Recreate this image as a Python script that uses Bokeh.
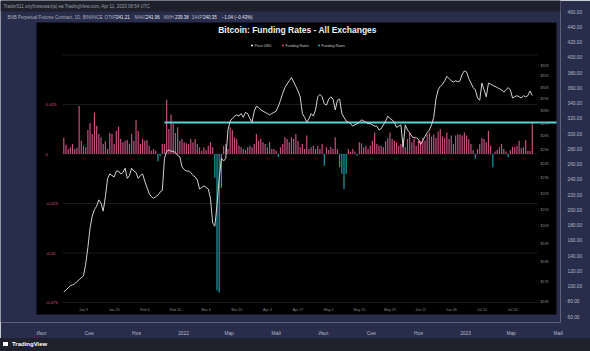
import numpy as np
import pandas as pd
from bokeh.plotting import figure
from bokeh.layouts import column
from bokeh.models import (Range1d, LinearAxis, LogScale, FixedTicker, Div,
                          ColumnDataSource, NumeralTickFormatter)
from bokeh.core.properties import value
from bokeh.embed import file_html
from bokeh.resources import INLINE

# ---------------- data ----------------
start_date = "2022-12-31"

# daily aggregated funding rate, in thousandths (x 0.001)
funding_milli = [
    8.2, 4.7, 2.5, 3.4, 5.1, 2.5, 3.0, 24.2, 6.7, 4.2,
    3.4, 12.1, 15.7, 10.1, 20.9, 14.3, 10.1, 8.4, 5.1, 6.4,
    2.5, 10.6, 10.1, 5.1, 11.8, 13.8, 7.6, 5.9, 6.7, 7.1,
    5.1, 10.1, 6.7, 17.2, 11.8, 5.1, 7.6, 6.7, 7.1, 4.2,
    1.7, 2.5, 1.7, -3.7, -1.0, 5.1, 5.1, 27.4, 12.6, 20.0,
    15.2, 10.6, 13.5, 6.7, 7.6, 5.9, 5.4, 5.1, 7.6, 5.9,
    7.6, 5.1, 3.4, 1.7, 3.4, 2.0, 4.2, 5.9, 3.4, -12.0,
    -69.0, -70.0, -17.0, 4.2, 5.1, 2.5, 13.5, 12.1, 8.4, 7.6,
    4.2, 3.4, 2.5, 2.0, 3.4, 4.2, 3.4, 5.1, 10.1, 6.7,
    7.6, 5.9, 5.1, 3.4, 5.9, 2.5, 2.5, 1.7, -1.5, 3.4,
    5.1, 8.4, 7.6, 5.9, 8.4, 7.6, 10.1, 6.7, 3.4, 5.1,
    2.5, 9.3, 2.5, 3.4, 4.2, 2.5, 4.2, 2.5, 5.1, -5.9,
    3.4, 2.0, 3.7, 2.5, 8.4, 2.5, -6.7, -10.0, -17.7, -10.0,
    2.5, 1.3, 2.5, 1.3, -0.8, 5.9, 5.4, 3.4, 4.2, 2.5,
    4.2, 6.7, 10.9, 5.1, 4.2, 4.2, 3.4, 6.4, 8.0, 10.9,
    7.6, 6.7, 5.9, 4.2, 5.1, 7.6, 3.4, 7.6, 10.9, 5.9,
    7.6, 4.2, 6.7, 6.4, 8.1, 6.7, 9.8, 10.9, 8.8, 9.8,
    8.1, 11.4, 12.6, 8.8, 8.1, 10.9, 7.6, 9.3, 5.1, 9.3,
    9.8, 9.8, 9.3, 10.9, 9.3, 7.6, 5.1, 2.0, -2.4, 2.5,
    5.1, 8.1, 7.6, 5.9, 11.8, 4.2, -6.7, 1.3, 2.0, 3.4,
    5.1, 2.5, 1.3, -1.7, 2.0, 3.7, 3.4, 4.2, 6.7, 3.0,
    3.4, 7.1, 1.7, 1.5, 16.0,
]

# daily price, USD thousands
price_k = [
    16.5, 16.6, 16.7, 16.8, 16.85, 16.9, 17.0, 17.1, 17.2, 17.3,
    17.9, 18.8, 19.9, 20.6, 21.0, 21.2, 21.6, 21.4, 20.9, 21.8,
    23.0, 23.3, 23.2, 23.1, 23.5, 23.5, 23.3, 23.4, 23.7, 23.0,
    23.2, 23.7, 23.5, 23.4, 23.0, 23.2, 23.3, 22.8, 22.4, 22.0,
    21.8, 21.7, 21.8, 21.9, 22.1, 22.2, 24.4, 24.9, 25.0, 24.9,
    24.9, 24.8, 24.6, 24.5, 23.8, 23.6, 23.5, 23.5, 23.4, 23.2,
    23.1, 22.9, 22.3, 22.4, 22.5, 22.4, 22.3, 21.7, 20.2, 20.0,
    21.3, 23.0, 24.4, 24.2, 24.4, 26.5, 27.2, 27.4, 27.6, 27.7,
    27.6, 27.8, 27.5, 27.9, 27.8, 27.4, 27.1, 28.0, 28.4, 28.3,
    28.1, 28.0, 27.9, 27.8, 27.7, 27.8, 27.9, 28.0, 28.4, 28.9,
    29.5, 30.0, 30.3, 30.6, 30.9, 30.5, 30.1, 29.7, 29.2, 27.8,
    27.5, 27.1, 27.4, 27.8, 27.6, 28.1, 29.2, 29.4, 29.2, 28.6,
    28.5, 29.0, 29.2, 29.0, 28.1, 28.9, 29.0, 27.8, 27.5, 27.2,
    27.1, 27.0, 26.8, 26.9, 27.0, 27.1, 27.3, 27.2, 27.1, 27.0,
    27.0, 26.9, 26.8, 26.8, 26.5, 26.6, 26.9, 27.2, 27.6, 27.4,
    27.3, 27.1, 26.7, 26.8, 26.9, 25.2, 26.9, 26.5, 26.3, 26.0,
    25.9, 25.9, 25.8, 25.4, 25.7, 26.0, 26.3, 26.5, 26.9, 27.5,
    29.0, 29.8, 30.1, 30.3, 30.6, 31.0, 30.8, 30.6, 30.5, 30.6,
    30.5, 30.6, 31.2, 31.5, 31.4, 30.8, 30.4, 30.0, 29.8, 29.1,
    28.9, 30.4, 29.8, 29.2, 30.4, 30.3, 30.2, 30.1, 30.0, 29.9,
    29.8, 29.6, 29.8, 30.0, 29.8, 29.1, 29.2, 29.3, 29.2, 29.1,
    29.3, 29.2, 29.3, 29.7, 29.3,
]

funding_tick_values = [0.025, 0.0, -0.025, -0.05, -0.075]
funding_tick_labels = ["0.025", "0", "-0.025", "-0.05", "-0.075"]
funding_grid_values = [0.05, 0.025, 0.0, -0.025, -0.05, -0.075]

price_tick_values = [16000, 17000, 18000, 19000, 20000, 21000, 22000, 23000, 24000,
                     25000, 26000, 27000, 28000, 29000, 30000, 31000, 32000]
price_tick_labels = ["$16K", "$17K", "$18K", "$19K", "$20K", "$21K", "$22K", "$23K", "$24K",
                     "$25K", "$26K", "$27K", "$28K", "$29K", "$30K", "$31K", "$32K"]

date_tick_values = ["2023-01-09", "2023-01-23", "2023-02-06", "2023-02-20", "2023-03-06",
                    "2023-03-20", "2023-04-03", "2023-04-17", "2023-05-01", "2023-05-15",
                    "2023-05-29", "2023-06-12", "2023-06-26", "2023-07-10", "2023-07-24"]
date_tick_labels = ["Jan 9", "Jan 23", "Feb 6", "Feb 20", "Mar 6", "Mar 20", "Apr 3", "Apr 17",
                    "May 1", "May 15", "May 29", "Jun 12", "Jun 26", "Jul 10", "Jul 24"]

ray_start = "2023-02-15"
ray_level = 0.0159

tv_price_ticks = [60, 80, 100, 120, 140, 160, 180, 200, 220, 240, 260, 280, 300,
                  320, 340, 360, 380, 400, 420, 440, 460]
tv_month_dates = ["2021-07-01", "2021-09-01", "2021-11-01", "2022-01-01", "2022-03-01",
                  "2022-05-01", "2022-07-01", "2022-09-01", "2022-11-01", "2023-01-01",
                  "2023-03-01", "2023-05-01"]
tv_month_labels = ["Июл", "Сен", "Ноя", "2022", "Мар", "Май", "Июл", "Сен", "Ноя", "2023",
                   "Мар", "Май"]

legend_labels = ["Price USD", "Funding Rates", "Funding Rates"]

# ---------------- layout calibration (pixels) ----------------
W = 590
FIG_H = 338
FOOT_H = 13
FRAME_W, FRAME_H = 560, 322
DAY = 86400000.0


def ms(d):
    return pd.Timestamp(d).value / 1e6


ANCHOR_MS = ms("2023-01-09")
ANCHOR_PX = 83.0
PX_PER_DAY = 2.189


def px_to_x(px):
    return ANCHOR_MS + (px - ANCHOR_PX) / PX_PER_DAY * DAY


ZERO_PY = 153.5
PX_PER_UNIT = 1980.0


def py_to_f(py):
    return (ZERO_PY - py) / PX_PER_UNIT


def py_to_price(py):
    return 32000 * np.exp((65 - py) / 341.9)


def py_to_tv(py):
    return 460 - (py - 11) * 400 / 305.0


TVX_BASE = pd.Timestamp("2022-01-01")


def px_to_tvx(px):
    return (px - 183) / 0.7726


NAVY = "#282d4c"
DARK = "#1e212b"
FONT = value("Liberation Sans")

p = figure(width=W, height=FIG_H,
           x_range=Range1d(px_to_x(0), px_to_x(FRAME_W)),
           y_range=Range1d(py_to_f(FRAME_H), py_to_f(0)),
           x_axis_type=None, y_axis_type=None,
           toolbar_location=None, output_backend="svg",
           min_border_left=0, min_border_top=0,
           min_border_right=W - FRAME_W, min_border_bottom=FIG_H - FRAME_H,
           background_fill_color=NAVY, border_fill_color=NAVY,
           outline_line_color=None)
p.extra_y_ranges = {
    "price": Range1d(py_to_price(FRAME_H), py_to_price(0)),
    "tv": Range1d(py_to_tv(FRAME_H), py_to_tv(0)),
}
p.extra_y_scales = {"price": LogScale()}
p.extra_x_ranges = {"tvx": Range1d(px_to_tvx(0), px_to_tvx(FRAME_W))}

# chrome: top dark strip, black chart image
p.quad(left=px_to_x(0), right=px_to_x(FRAME_W), top=py_to_f(0), bottom=py_to_f(11),
       fill_color=DARK, line_color=None)
p.quad(left=px_to_x(36), right=px_to_x(556), top=py_to_f(22), bottom=py_to_f(314),
       fill_color="black", line_color=None)

# faint gridlines of the inner chart
p.segment(x0=[px_to_x(62)] * len(funding_grid_values), x1=[px_to_x(537)] * len(funding_grid_values),
          y0=funding_grid_values, y1=funding_grid_values, line_color="#1b1b1b", line_width=1)

# funding bars
dates = pd.date_range(start_date, periods=len(funding_milli), freq="D")
funding = np.array(funding_milli) / 1000.0
colors = ["#c4507f" if v >= 0 else "#1f9ea6" for v in funding]
src = ColumnDataSource(dict(date=dates, funding=funding, color=colors))
p.vbar(x="date", top="funding", bottom=0, width=0.55 * DAY, source=src,
       fill_color="color", line_color=None)

# horizontal ray
p.line(x=[ms(ray_start), px_to_x(556)], y=[ray_level, ray_level],
       line_color="#58d3d6", line_width=2)

# price line (log scale)
price = np.array(price_k) * 1000.0
p.line(x=pd.date_range(start_date, periods=len(price_k), freq="D"), y=price,
       y_range_name="price", line_color="#d2d2d2", line_width=1)


def txt(px, py, s, size, color, align="left", bold=False):
    p.text(x=[px_to_x(px)], y=[py_to_f(py)], text=[s], text_font=FONT,
           text_font_size=size, text_color=color, text_align=align,
           text_baseline="middle", text_font_style="bold" if bold else "normal")


# inner axes labels
p.text(x=[px_to_x(45)] * len(funding_tick_values), y=funding_tick_values,
       text=funding_tick_labels, text_font=FONT, text_font_size="4.4px",
       text_color="#d9508a", text_align="left", text_baseline="middle")
p.text(x=[px_to_x(540)] * len(price_tick_values), y=price_tick_values,
       text=price_tick_labels, y_range_name="price", text_font=FONT,
       text_font_size="3.6px", text_color="#8a8a8a", text_align="left",
       text_baseline="middle")
p.text(x=[ms(d) for d in date_tick_values], y=[py_to_f(309)] * len(date_tick_values),
       text=date_tick_labels, text_font=FONT, text_font_size="3.6px",
       text_color="#8a8a8a", text_align="center", text_baseline="middle")

# title and legend of the inner chart
txt(297, 29.5, "Bitcoin: Funding Rates - All Exchanges", "8.5px", "#f2f2f2", "center", True)
legend_px = [254, 285, 321]
legend_colors = ["#ffffff", "#e0457b", "#2bb8bd"]
p.scatter(x=[px_to_x(v - 2.5) for v in legend_px], y=[py_to_f(45)] * 3, size=2,
          color=legend_colors, line_color=None)
p.text(x=[px_to_x(v) for v in legend_px], y=[py_to_f(45)] * 3, text=legend_labels,
       text_font=FONT, text_font_size="3.6px", text_color="#c8c8c8",
       text_align="left", text_baseline="middle")

# TradingView header texts
txt(3, 5.5, "Trader511 опубликовал(а) на TradingView.com, Apr 11, 2023 08:54 UTC",
    "4.5px", "#9a9ca6")
txt(7, 16.5, "BNB Perpetual Futures Contract, 1D, BINANCE", "4.5px", "#a9acb6")
ohlc = [(104, "ОТКР", "241.21"), (134, "МАКС", "241.96"), (163, "МИН", "239.38"),
        (191, "ЗАКР", "240.35")]
for px, lab, val in ohlc:
    txt(px, 16.5, lab, "4.5px", "#a9acb6")
    txt(px + 11.5, 16.5, val, "4.5px", "#e6e8ee")
txt(221, 16.5, "−1.04 (−0.43%)", "4.5px", "#e6e8ee")

# TradingView axes
tv_axis = LinearAxis(y_range_name="tv", ticker=FixedTicker(ticks=tv_price_ticks),
                     formatter=NumeralTickFormatter(format="0.00"))
tvx_ticks = [(pd.Timestamp(d) - TVX_BASE).days for d in tv_month_dates]
tvx_axis = LinearAxis(x_range_name="tvx", ticker=FixedTicker(ticks=tvx_ticks),
                      major_label_overrides=dict(zip(tvx_ticks, tv_month_labels)))
for ax in (tv_axis, tvx_axis):
    ax.axis_line_color = None
    ax.major_tick_line_color = None
    ax.minor_tick_line_color = None
    ax.major_tick_out = 0
    ax.major_tick_in = 0
    ax.minor_tick_out = 0
    ax.major_label_text_font = "Liberation Sans"
    ax.major_label_text_font_size = "4.8px"
    ax.major_label_text_color = "#b4b7c2"
tv_axis.major_label_standoff = 7
tvx_axis.major_label_standoff = 8
p.add_layout(tv_axis, "right")
p.add_layout(tvx_axis, "below")

# footer
footer = Div(
    text=('<span style="display:inline-block;width:5px;height:4px;background:#ffffff;'
          'margin-right:4px;vertical-align:middle"></span>TradingView'),
    width=W, height=FOOT_H, margin=0,
    styles={"background-color": DARK, "color": "#ffffff", "font-family": "Liberation Sans",
            "font-size": "6px", "font-weight": "bold", "line-height": f"{FOOT_H}px",
            "padding-left": "3px", "box-sizing": "border-box", "overflow": "hidden"})

layout = column(p, footer, spacing=0)
open("out.html", "w").write(file_html(layout, INLINE))
